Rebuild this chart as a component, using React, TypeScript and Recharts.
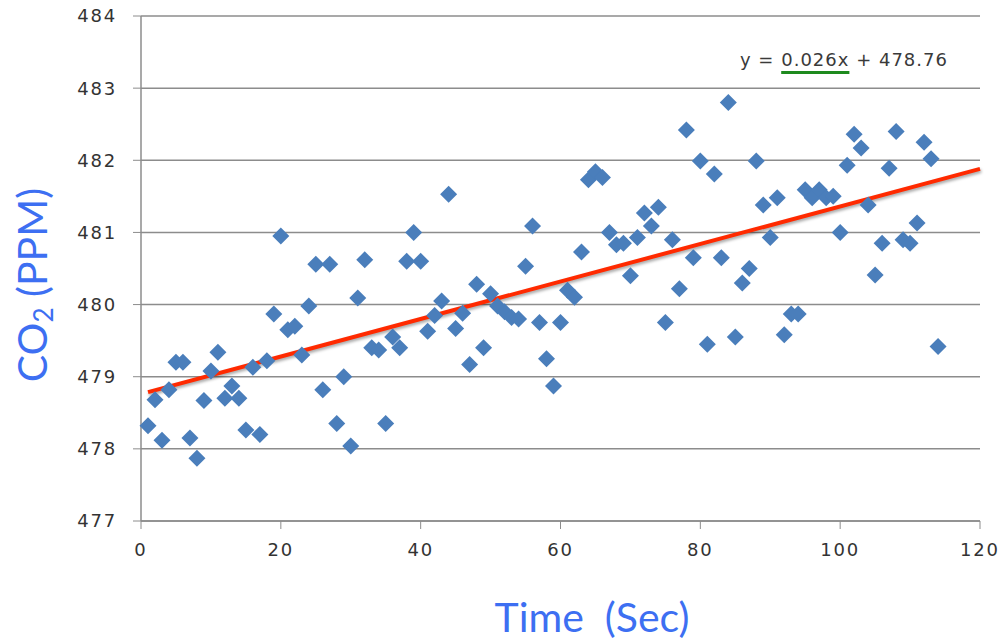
import React from 'react';
import { ScatterChart, Scatter, XAxis, YAxis, CartesianGrid, ReferenceLine } from 'recharts';

// time in seconds
const timeSec = [
  1, 2, 3, 4, 5, 6, 7, 8, 9, 10, 11, 12, 13, 14, 15, 16, 17, 18, 19, 20,
  21, 22, 23, 24, 25, 26, 27, 28, 29, 30, 31, 32, 33, 34, 35, 36, 37, 38, 39, 40,
  41, 42, 43, 44, 45, 46, 47, 48, 49, 50, 51, 52, 53, 54, 55, 56, 57, 58, 59, 60,
  61, 62, 63, 64, 65, 66, 67, 68, 69, 70, 71, 72, 73, 74, 75, 76, 77, 78, 79, 80,
  81, 82, 83, 84, 85, 86, 87, 88, 89, 90, 91, 92, 93, 94, 95, 96, 97, 98, 99, 100,
  101, 102, 103, 104, 105, 106, 107, 108, 109, 110, 111, 112, 113, 114,
];

// CO2 readings (ppm)
const co2Ppm = [
  478.32, 478.68, 478.12, 478.82, 479.2, 479.2, 478.15, 477.87, 478.67, 479.08,
  479.34, 478.7, 478.87, 478.7, 478.26, 479.13, 478.2, 479.22, 479.87, 480.95,
  479.65, 479.7, 479.3, 479.98, 480.56, 478.82, 480.56, 478.35, 479.0, 478.04,
  480.09, 480.62, 479.4, 479.37, 478.35, 479.55, 479.4, 480.6, 481.0, 480.6,
  479.63, 479.85, 480.05, 481.53, 479.67, 479.88, 479.17, 480.28, 479.4, 480.15,
  479.98, 479.9, 479.82, 479.8, 480.53, 481.09, 479.75, 479.25, 478.87, 479.75,
  480.2, 480.1, 480.73, 481.73, 481.84, 481.76, 481.0, 480.83, 480.85, 480.4,
  480.93, 481.27, 481.09, 481.35, 479.75, 480.9, 480.22, 482.42, 480.65, 481.99,
  479.45, 481.81, 480.65, 482.8, 479.55, 480.3, 480.5, 481.99, 481.38, 480.93,
  481.48, 479.58, 479.87, 479.87, 481.59, 481.48, 481.59, 481.48, 481.5, 481.0,
  481.93, 482.36, 482.17, 481.38, 480.41, 480.85, 481.89, 482.4, 480.9, 480.85,
  481.13, 482.25, 482.02, 479.42,
];

const xTicks = [0, 20, 40, 60, 80, 100, 120];
const yTicks = [477, 478, 479, 480, 481, 482, 483, 484];

// linear trend from the chart: y = 0.026x + 478.76
const trendSlope = 0.026;
const trendIntercept = 478.76;
const trendRange = [1, 120];

const points = timeSec.map((t, i) => ({ x: t, y: co2Ppm[i] }));

const Diamond = (props: any) => {
  const { cx, cy } = props;
  if (cx == null || cy == null) return null;
  const r = 8.5;
  return (
    <polygon
      points={`${cx},${cy - r} ${cx + r},${cy} ${cx},${cy + r} ${cx - r},${cy}`}
      fill="#4a7ebb"
    />
  );
};

const blue = '#3d6ff2';
const tickStyle = { fill: '#333', fontSize: 18, fontFamily: 'DejaVu Sans', letterSpacing: 1.8 };

export default function App() {
  return (
    <div style={{ position: 'fixed', left: 0, top: 0, width: 1000, height: 642, background: '#fff', fontFamily: 'DejaVu Sans', overflow: 'hidden' }}>
      <ScatterChart width={1000} height={642} margin={{ top: 16, right: 20, bottom: 81, left: 71 }}>
        <CartesianGrid vertical={false} stroke="#8c8c8c" strokeWidth={1.5} />
        <XAxis
          type="number"
          dataKey="x"
          domain={[0, 120]}
          ticks={xTicks}
          height={40}
          tick={tickStyle}
          tickSize={8}
          tickMargin={14}
          axisLine={{ stroke: '#8c8c8c', strokeWidth: 1.5 }}
          tickLine={{ stroke: '#8c8c8c' }}
        />
        <YAxis
          type="number"
          dataKey="y"
          domain={[477, 484]}
          ticks={yTicks}
          width={70}
          tick={tickStyle}
          tickSize={8}
          tickMargin={16}
          axisLine={{ stroke: '#8c8c8c', strokeWidth: 1.5 }}
          tickLine={{ stroke: '#8c8c8c' }}
        />
        <Scatter data={points} shape={<Diamond />} isAnimationActive={false} />
        <ReferenceLine
          segment={[
            { x: trendRange[0], y: trendIntercept + trendSlope * trendRange[0] },
            { x: trendRange[1], y: trendIntercept + trendSlope * trendRange[1] },
          ]}
          stroke="#ff2a00"
          strokeWidth={4}
          ifOverflow="visible"
          style={{ filter: 'drop-shadow(1px 2px 1.5px rgba(0,0,0,0.35))' }}
        />
      </ScatterChart>

      <div
        style={{
          position: 'absolute', left: 740, top: 49, fontSize: 18, color: '#3a3a3a',
          letterSpacing: 1, whiteSpace: 'nowrap',
        }}
      >
        y ={' '}
        <span
          style={{
            textDecoration: 'underline', textDecorationColor: '#1e8a1e',
            textDecorationThickness: 3, textUnderlineOffset: 5,
          }}
        >
          0.026x
        </span>
        {' '}+ 478.76
      </div>

      <div
        style={{
          position: 'absolute', left: 33, top: 285, transform: 'translate(-50%, -50%) rotate(-90deg)',
          fontFamily: 'Lato', fontSize: 41, color: blue, whiteSpace: 'nowrap', lineHeight: 1,
        }}
      >
        CO<sub style={{ fontSize: 26, verticalAlign: -6 }}>2</sub> (PPM)
      </div>

      <div
        style={{
          position: 'absolute', left: 592, top: 616, transform: 'translate(-50%, -50%)',
          fontFamily: 'Lato', fontSize: 41, color: blue, whiteSpace: 'pre', lineHeight: 1,
        }}
      >
        Time  (Sec)
      </div>
    </div>
  );
}
